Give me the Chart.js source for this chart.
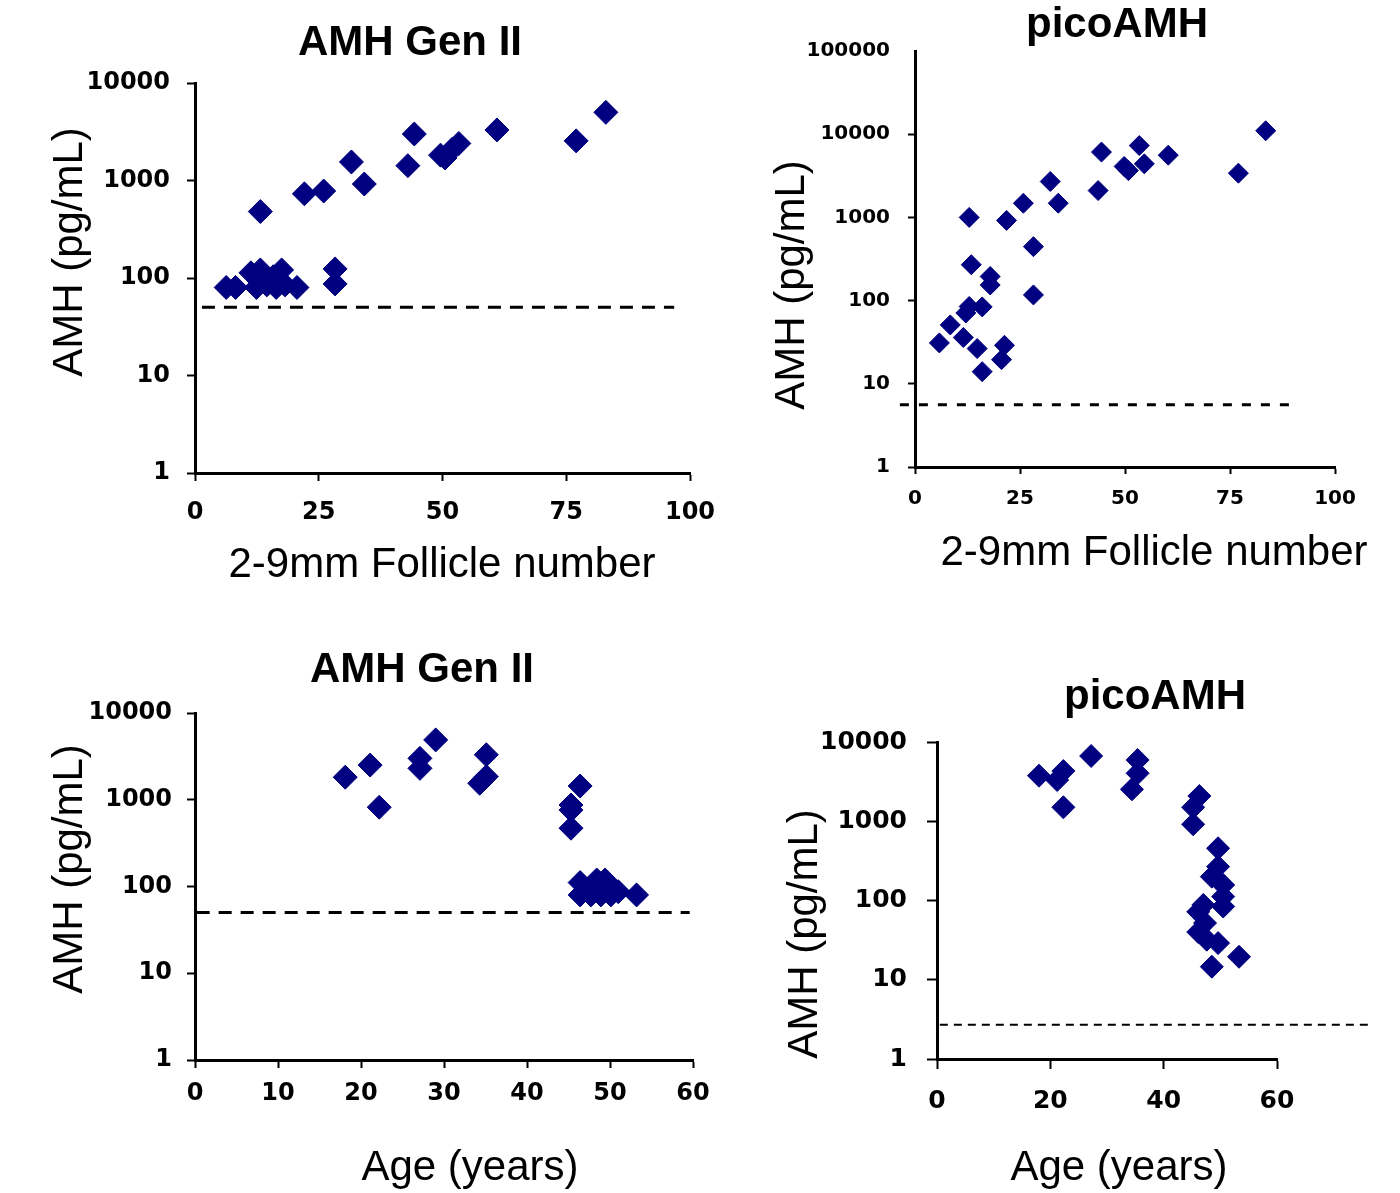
<!DOCTYPE html>
<html>
<head>
<meta charset="utf-8">
<title>AMH Gen II x picoAMH</title>
<script src="https://cdn.jsdelivr.net/npm/chart.js@4.4.1/dist/chart.umd.min.js"></script>
<style>
  body { margin: 0; background: #fff; }
  #quadro { position: relative; width: 1400px; height: 1193px; overflow: hidden; }
  #quadro canvas { position: absolute; left: 0; top: 0; }
</style>
</head>
<body>
<div id="quadro">
  <canvas id="p1" width="1400" height="1193"></canvas>
  <canvas id="p2" width="1400" height="1193"></canvas>
  <canvas id="p3" width="1400" height="1193"></canvas>
  <canvas id="p4" width="1400" height="1193"></canvas>
</div>
<script>
// Dados

// Painel 1 - AMH Gen II x folículos 2-9mm
const folGen2 = [83, 77, 61, 44.3, 43, 31.6, 34.2, 22.1, 26, 13.2, 49.6, 50.5, 52, 53.3,
    28.3, 28.3, 6.3, 8.2, 11.3, 13.2, 12.4, 14.5, 16.4, 17.5, 18.2, 20.6, 15.8, 13.2];
const amhGen2Fol = [5000, 2550, 3300, 3000, 1420, 1550, 920, 730, 780, 480, 1820, 1700, 2100, 2400,
    124, 87, 80, 80, 113, 121, 80, 85, 80, 121, 85, 80, 103, 96];

// Painel 2 - picoAMH x folículos 2-9mm
const folPico = [83.5, 77, 60.3, 53.4, 54.6, 49.8, 50.8, 44.4, 43.6, 32.2, 34.1, 25.8, 21.8, 12.9,
    28.2, 28.2, 13.4, 17.9, 17.9, 12.9, 12.1, 16, 8.4, 5.8, 11.5, 14.8, 21.3, 20.6, 16];
const amhPicoFol = [11000, 3400, 5600, 7300, 4400, 4100, 3650, 6100, 2100, 2700, 1480, 1480, 920, 1000,
    445, 117, 270, 195, 154, 85, 71, 84, 51, 31, 36, 26.5, 29, 19.5, 14];

// Painel 3 - AMH Gen II x idade
const idadeGen2 = [18.1, 21.1, 22.2, 27.1, 27.1, 29, 35.1, 35.1, 34.3, 46.4, 45.3, 45.3, 45.3, 53.2,
    46.4, 46.4, 48.4, 49.4, 47.7, 48.9, 50.1, 51, 48, 49.6];
const amhGen2Idade = [1820, 2510, 820, 3000, 2300, 4900, 3300, 1850, 1550, 1440, 870, 760, 470, 80,
    111, 80, 119, 119, 80, 80, 80, 87, 95, 95];

// Painel 4 - picoAMH x idade
const idadePico = [18, 21.2, 22.3, 22.3, 27.2, 35.4, 35.4, 34.4, 46.3, 45.2, 45.2, 49.6, 49.6, 48.5,
    50.5, 50.5, 50.5, 47, 46.1, 47.3, 46.1, 47.6, 49.6, 53.3, 48.5];
const amhPicoIdade = [3760, 3310, 4300, 1500, 6660, 5930, 4030, 2530, 2080, 1500, 916, 456, 267, 200,
    157, 112, 84, 88, 72, 52, 40, 32, 29, 19.5, 14.6];

// Limites de detecção (linha tracejada) e onde a linha começa/termina no eixo x
const limiteGen2 = 50;
const limitePicoFol = 5.6;
const limitePicoIdade = 2.7;
const faixaLimite1 = [1.4, 96.8];
const faixaLimite2 = [-3.6, 91];
const faixaLimite3 = [0.2, 59.6];
const faixaLimite4 = [0.5, 76.8];

// Ticks dos eixos
const ticksFol = [0, 25, 50, 75, 100];
const ticksIdadeGen2 = [0, 10, 20, 30, 40, 50, 60];
const ticksIdadePico = [0, 20, 40, 60];
const ticksAmh = [1, 10, 100, 1000, 10000];
const ticksAmhPico = [1, 10, 100, 1000, 10000, 100000];

const AZUL = '#000080';
const LARG_Y = 140;  // largura fixa do eixo y (os rótulos são cortados fora dela)
const ALT_X = 80;    // altura fixa do eixo x

// Plugin simples para escrever títulos nas posições do original
const rotulos = {
    id: 'rotulos',
    afterDraw(chart, args, opts) {
        const ctx = chart.ctx;
        (opts.textos || []).forEach((t) => {
            ctx.save();
            ctx.translate(t.x, t.y);
            if (t.girar) ctx.rotate(-Math.PI / 2);
            ctx.font = t.fonte;
            ctx.fillStyle = '#000';
            ctx.textAlign = 'center';
            ctx.textBaseline = 'middle';
            ctx.fillText(t.texto, 0, 0);
            ctx.restore();
        });
    }
};

function pontos(xs, ys) {
    return xs.map((x, i) => ({ x: x, y: ys[i] }));
}

function criarPainel(id, p) {
    const area = p.area;
    const fonteTick = { family: "'DejaVu Sans', sans-serif", size: p.tamTick, weight: 'bold' };
    const fonteTitulo = "bold 42px 'Liberation Sans', Arial, sans-serif";
    const fonteEixo = "42px 'Liberation Sans', Arial, sans-serif";

    return new Chart(document.getElementById(id), {
        type: 'scatter',
        data: {
            datasets: [{
                data: pontos(p.x, p.y),
                pointStyle: 'rectRot',
                pointRadius: p.raio,
                backgroundColor: AZUL,
                borderColor: AZUL,
                borderWidth: 1
            }, {
                type: 'line',
                data: [{ x: p.faixa[0], y: p.limite }, { x: p.faixa[1], y: p.limite }],
                borderColor: '#000',
                borderWidth: p.tracoLarg,
                borderDash: p.traco,
                pointRadius: 0,
                clip: false
            }]
        },
        options: {
            responsive: false,
            animation: false,
            events: [],
            layout: {
                padding: {
                    left: area.left - LARG_Y,
                    top: area.top,
                    right: 1400 - area.right,
                    bottom: 1193 - area.bottom - ALT_X
                }
            },
            plugins: {
                legend: { display: false },
                tooltip: { enabled: false },
                rotulos: {
                    textos: [
                        { texto: p.titulo, x: p.posTitulo[0], y: p.posTitulo[1], fonte: fonteTitulo },
                        { texto: p.tituloX, x: p.posX[0], y: p.posX[1], fonte: fonteEixo },
                        { texto: 'AMH (pg/mL)', x: p.posY[0], y: p.posY[1], fonte: fonteEixo, girar: true }
                    ]
                }
            },
            scales: {
                x: {
                    type: 'linear',
                    min: p.ticksX[0],
                    max: p.ticksX[p.ticksX.length - 1],
                    afterBuildTicks: (s) => { s.ticks = p.ticksX.map((v) => ({ value: v })); },
                    afterFit: (s) => { s.height = ALT_X; },
                    border: { color: '#000', width: 3 },
                    grid: { drawOnChartArea: false, tickLength: p.tickX, tickWidth: 2, tickColor: '#000' },
                    ticks: { font: fonteTick, color: '#000', padding: p.padX, maxRotation: 0, autoSkip: false,
                        callback: (v) => String(v) }
                },
                y: {
                    type: 'logarithmic',
                    min: p.ticksY[0],
                    max: p.ticksY[p.ticksY.length - 1],
                    afterBuildTicks: (s) => { s.ticks = p.ticksY.map((v) => ({ value: v })); },
                    afterFit: (s) => { s.width = LARG_Y; },
                    border: { color: '#000', width: 3 },
                    grid: {
                        drawOnChartArea: false, tickLength: p.tickY, tickWidth: 2,
                        tickColor: (c) => (c.tick && c.tick.value === 100000 ? 'rgba(0,0,0,0)' : '#000')
                    },
                    ticks: { font: fonteTick, color: '#000', padding: p.padY, autoSkip: false,
                        callback: (v) => String(v) }
                }
            }
        },
        plugins: [rotulos]
    });
}

criarPainel('p1', {
    x: folGen2, y: amhGen2Fol, ticksX: ticksFol, ticksY: ticksAmh,
    limite: limiteGen2, faixa: faixaLimite1, traco: [13, 9], tracoLarg: 3,
    area: { left: 195, top: 83, right: 690, bottom: 473 },
    raio: 12, tamTick: 24, tickX: 8, tickY: 8, padX: 17, padY: 17,
    titulo: 'AMH Gen II', posTitulo: [410, 43],
    tituloX: '2-9mm Follicle number', posX: [442, 565], posY: [70, 252]
});

criarPainel('p2', {
    x: folPico, y: amhPicoFol, ticksX: ticksFol, ticksY: ticksAmhPico,
    limite: limitePicoFol, faixa: faixaLimite2, traco: [9, 10], tracoLarg: 3,
    area: { left: 915, top: 51, right: 1335, bottom: 467 },
    raio: 10, tamTick: 20, tickX: 7, tickY: 7, padX: 13, padY: 18,
    titulo: 'picoAMH', posTitulo: [1117, 25],
    tituloX: '2-9mm Follicle number', posX: [1154, 553], posY: [792, 285]
});

criarPainel('p3', {
    x: idadeGen2, y: amhGen2Idade, ticksX: ticksIdadeGen2, ticksY: ticksAmh,
    limite: limiteGen2, faixa: faixaLimite3, traco: [13, 9], tracoLarg: 3,
    area: { left: 195, top: 713, right: 693, bottom: 1060 },
    raio: 12, tamTick: 24, tickX: 8, tickY: 8, padX: 11, padY: 15,
    titulo: 'AMH Gen II', posTitulo: [422, 670],
    tituloX: 'Age (years)', posX: [470, 1168], posY: [70, 869]
});

criarPainel('p4', {
    x: idadePico, y: amhPicoIdade, ticksX: ticksIdadePico, ticksY: ticksAmh,
    limite: limitePicoIdade, faixa: faixaLimite4, traco: [8, 6], tracoLarg: 2,
    area: { left: 937, top: 742, right: 1277, bottom: 1059 },
    raio: 11.5, tamTick: 25, tickX: 10, tickY: 10, padX: 17, padY: 20,
    titulo: 'picoAMH', posTitulo: [1155, 697],
    tituloX: 'Age (years)', posX: [1119, 1168], posY: [805, 934]
});
</script>
</body>
</html>
